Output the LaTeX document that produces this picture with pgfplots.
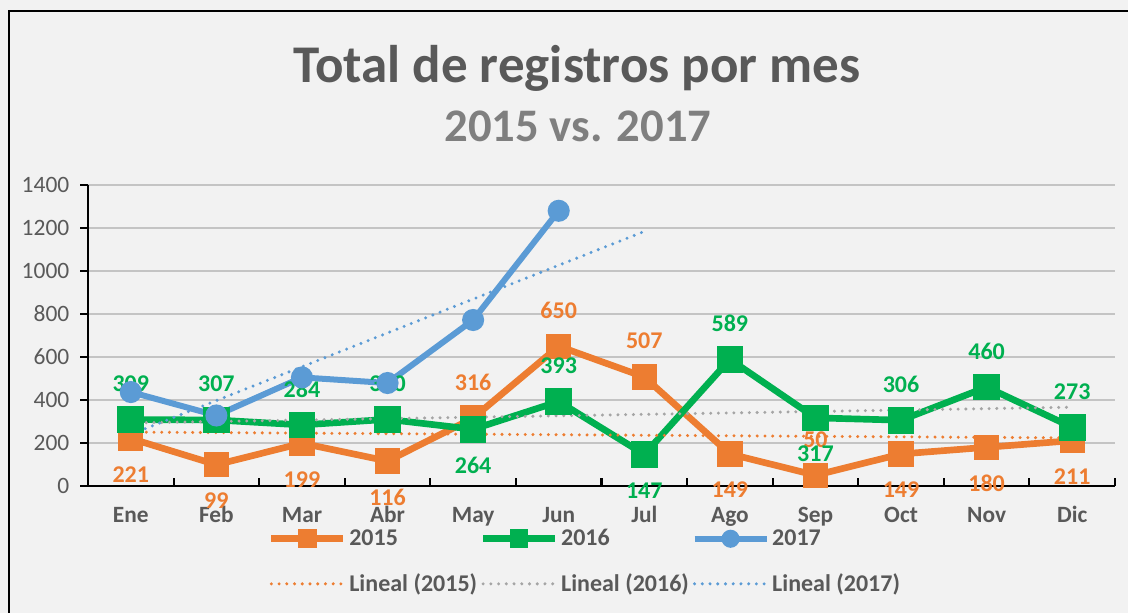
\documentclass[border=0pt]{standalone}
\usepackage{pgfplots}
\pgfplotsset{compat=1.18}
\usepackage{pgfplotstable}
\usepackage{fontspec}
\setmainfont{Carlito}
\definecolor{corange}{HTML}{ED7D31}
\definecolor{cgreen}{HTML}{00B050}
\definecolor{cblue}{HTML}{5B9BD5}
\definecolor{ctrend}{HTML}{A5A5A5}
\definecolor{ctext}{HTML}{595959}
\definecolor{csub}{HTML}{7F7F7F}
\definecolor{cgrid}{HTML}{C4C4C4}
\definecolor{cbg}{HTML}{F2F2F2}

\pgfplotstableread{
x y pos
0 221 -1
1 99 -1
2 199 -1
3 116 -1
4 316 1
5 650 1
6 507 1
7 149 -1
8 50 1
9 149 -1
10 180 -1
11 211 -1
}\tabA
\pgfplotstableread{
x y pos
0 309 1
1 307 1
2 284 1
3 310 1
4 264 -1
5 393 1
6 147 -1
7 589 1
8 317 -1
9 306 1
10 460 1
11 273 1
}\tabB
\pgfplotstableread{
x y
0 437
1 328
2 505
3 479
4 772
5 1280
}\tabC

\begin{document}
\begin{tikzpicture}
\fill[cbg] (0pt,0pt) rectangle (846pt,459.75pt);
\path[use as bounding box] (0pt,0pt) rectangle (846pt,459.75pt);
\draw[line width=2.2pt, black] (6.75pt,0pt) -- (6.75pt,451.5pt) -- (846pt,451.5pt);
\node[anchor=base, font=\bfseries\fontsize{39.75}{48}\selectfont, text=ctext] at (432.75pt,397.5pt) {Total de registros por mes};
\node[anchor=base, font=\bfseries\fontsize{35}{42}\selectfont, text=csub] at (433.5pt,353.25pt) {2015 vs. 2017};
\begin{axis}[
  at={(66pt,95.25pt)}, anchor=south west,
  scale only axis, width=770.25pt, height=225.75pt,
  xmin=-0.5, xmax=11.5, ymin=0, ymax=1400,
  clip=false,
  axis x line*=bottom, axis y line*=left,
  axis line style={line width=1.6pt, black},
  xtick={0,...,11},
  xticklabels={Ene,Feb,Mar,Abr,May,Jun,Jul,Ago,Sep,Oct,Nov,Dic},
  minor xtick={-0.5,0.5,...,11.5},
  every major x tick/.append style={draw=none},
  every minor x tick/.append style={line width=1.6pt, black},
  ytick={0,200,...,1400},
  every major y tick/.append style={line width=1.6pt, black, xshift=-6pt},
  tick align=inside,
  major tick length=6pt, minor tick length=6pt,
  ymajorgrids, y grid style={line width=1.2pt, cgrid},
  /pgf/number format/assume math mode=true,
  /pgf/number format/1000 sep={},
  yticklabel style={font=\fontsize{17.6}{20}\selectfont, text=ctext, anchor=east, xshift=-10.5pt},
  xticklabel style={font=\bfseries\fontsize{17.5}{20}\selectfont, text=ctext, anchor=base, yshift=-27.75pt},
  legend columns=3,
  legend cell align=left,
  legend style={at={(0.175,-0.135)}, anchor=north west, draw=none, fill=none, inner sep=0pt,
    font=\bfseries\fontsize{18}{21}\selectfont, text=ctext,
    /tikz/every odd column/.append style={column sep=0pt},
    /tikz/every even column/.append style={column sep=0pt},
    row sep=15.5pt},
  legend image code/.code={\draw[mark repeat=2,mark phase=2,#1,mark size=4.5pt] plot coordinates {(0pt,0pt) (27pt,0pt) (54pt,0pt)};},
  nodes near coords style={font=\bfseries\fontsize{18}{21}\selectfont},
]
\addplot[corange, line width=5pt, mark=square*, mark size=7pt, mark options={solid},
  visualization depends on={\thisrow{pos} \as \labpos},
  nodes near coords,
  every node near coord/.append style={text=corange, anchor=center, yshift=\labpos*27pt}]
  table[x=x, y=y] {\tabA};
\addlegendentry{2015}
\addplot[cgreen, line width=5pt, mark=square*, mark size=7.5pt, mark options={solid},
  visualization depends on={\thisrow{pos} \as \labpos},
  nodes near coords,
  every node near coord/.append style={text=cgreen, anchor=center, yshift=\labpos*27pt}]
  table[x=x, y=y] {\tabB};
\addlegendentry{2016}
\addplot[cblue, line width=4.5pt, mark=*, mark size=6pt, mark options={solid}]
  table[x=x, y=y] {\tabC};
\addlegendentry{2017}
\addplot[corange, line width=2.5pt, dash pattern=on 0pt off 5.8pt, line cap=round]
  coordinates {(0,250.8) (11,223.7)};
\addlegendentry{Lineal (2015)}
\addplot[ctrend, line width=2.5pt, dash pattern=on 0pt off 5.8pt, line cap=round]
  coordinates {(0,293.4) (11,366.4)};
\addlegendentry{Lineal (2016)}
\addplot[cblue, line width=2.5pt, dash pattern=on 0pt off 5.8pt, line cap=round]
  coordinates {(0,240) (6,1184)};
\addlegendentry{Lineal (2017)}
\end{axis}
\end{tikzpicture}
\end{document}
